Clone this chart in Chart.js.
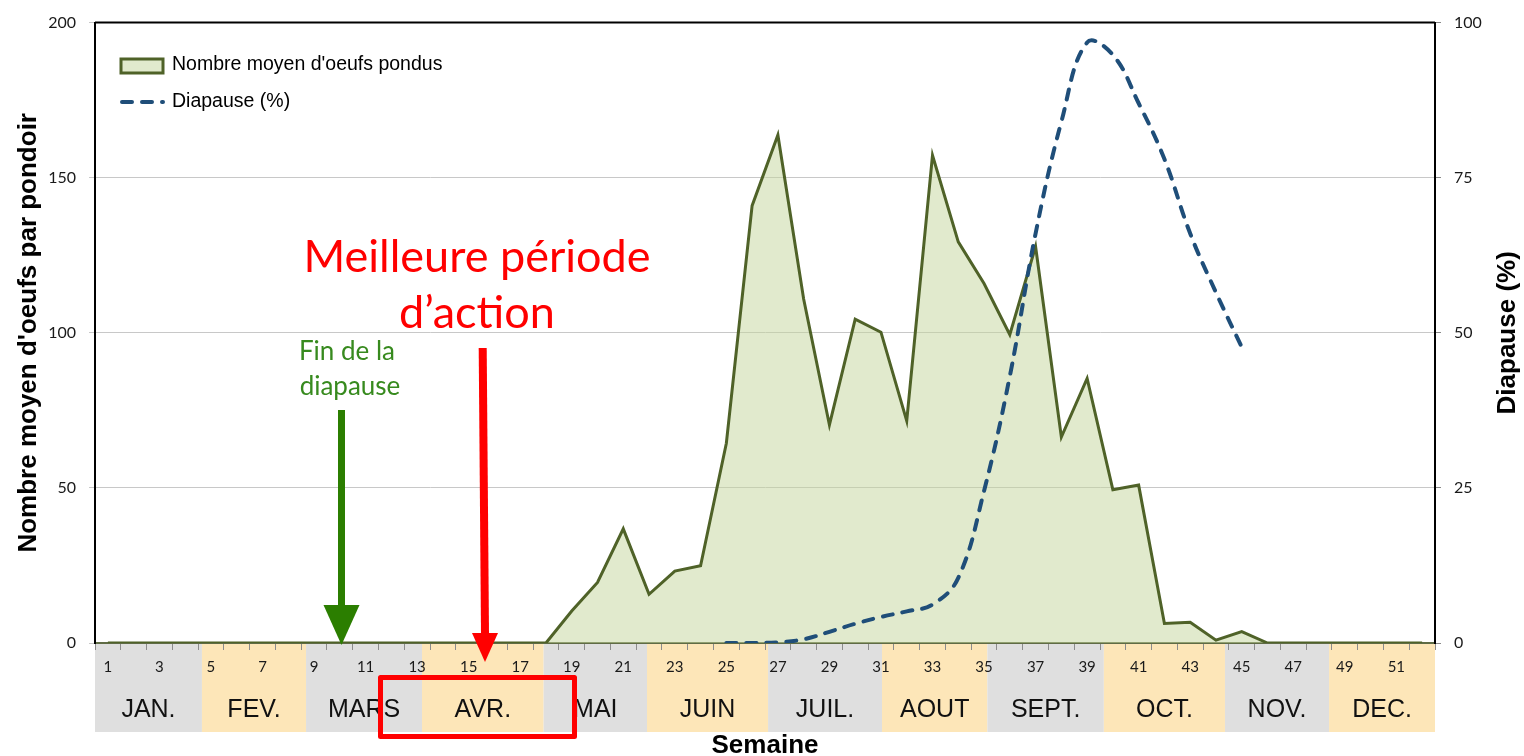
<!DOCTYPE html>
<html>
<head>
<meta charset="utf-8">
<script src="https://cdn.jsdelivr.net/npm/chart.js@4/dist/chart.umd.min.js"></script>
<style>
  html, body { margin: 0; padding: 0; background: #fff; }
  #wrap { width: 1524px; height: 756px; position: relative; }
</style>
</head>
<body>
<div id="wrap"><canvas id="myChart"></canvas></div>
<script>
// semaines 1..52
var weeks = ['1', '2', '3', '4', '5', '6', '7', '8', '9', '10', '11', '12', '13',
  '14', '15', '16', '17', '18', '19', '20', '21', '22', '23', '24', '25', '26',
  '27', '28', '29', '30', '31', '32', '33', '34', '35', '36', '37', '38', '39',
  '40', '41', '42', '43', '44', '45', '46', '47', '48', '49', '50', '51', '52'];

// nombre moyen d'oeufs par pondoir (axe gauche)
var eggs = [0, 0, 0, 0, 0, 0, 0, 0, 0, 0, 0, 0, 0, 0, 0, 0, 0, 0,
  10.3, 19.5, 36.8, 15.7, 23.2, 24.9, 64.4, 141, 163.8, 110.9, 70.3, 104.4,
  100.2, 71.6, 157.2, 129.3, 115.9, 99.4, 127.8, 66.4, 85.3, 49.4, 50.9,
  6.3, 6.7, 0.9, 3.7,
  0, 0, 0, 0, 0, 0, 0];

// diapause en % (axe droit)
var diapause = [null, null, null, null, null, null, null, null, null, null, null, null,
  null, null, null, null, null, null, null, null, null, null, null, null,
  0, 0, 0.1, 0.6, 1.8, 3.1, 4.2, 5.1, 6.2, 10.5, 24.5, 43, 66, 84, 96.8, 94.8,
  87, 78, 66, 56.5, 47.7,
  null, null, null, null, null, null, null];

var months = ['JAN.', 'FEV.', 'MARS', 'AVR.', 'MAI', 'JUIN', 'JUIL.', 'AOUT', 'SEPT.', 'OCT.', 'NOV.', 'DEC.'];
// fin de chaque mois, en semaines
var monthEnds = [4.15, 8.19, 12.69, 17.41, 21.42, 26.12, 30.54, 34.63, 39.15, 43.85, 47.89, 52];

var ARIAL = '"Liberation Sans", Arial, sans-serif';
var CALIBRI = 'Lato, "Open Sans", sans-serif';

// bandes de mois sous l'axe des semaines
var monthBands = {
  id: 'monthBands',
  beforeDraw: function (chart) {
    var ctx = chart.ctx;
    var x = chart.scales.x;
    var area = chart.chartArea;
    var start = 0;
    ctx.save();
    for (var i = 0; i < months.length; i++) {
      var x0 = x.getPixelForValue(start - 0.5);
      var x1 = x.getPixelForValue(monthEnds[i] - 0.5);
      ctx.fillStyle = i % 2 ? '#fde6b8' : '#dfdfdf';
      ctx.fillRect(x0, area.bottom + 1, x1 - x0, 88);
      ctx.fillStyle = '#111';
      ctx.font = '25px ' + ARIAL;
      ctx.textAlign = 'center';
      ctx.textBaseline = 'alphabetic';
      ctx.fillText(months[i], (x0 + x1) / 2, 717);
      start = monthEnds[i];
    }
    ctx.restore();
  }
};

function drawArrow(ctx, x0, y0, x1, y1, color, width, headW, headH) {
  ctx.strokeStyle = color;
  ctx.fillStyle = color;
  ctx.lineWidth = width;
  ctx.lineCap = 'butt';
  ctx.beginPath();
  ctx.moveTo(x0, y0);
  ctx.lineTo(x1, y1 - headH + 1);
  ctx.stroke();
  ctx.beginPath();
  ctx.moveTo(x1 - headW / 2, y1 - headH);
  ctx.lineTo(x1 + headW / 2, y1 - headH);
  ctx.lineTo(x1, y1);
  ctx.closePath();
  ctx.fill();
}

// légende, titre droit, cadre et annotations
var overlay = {
  id: 'overlay',
  afterDraw: function (chart) {
    var ctx = chart.ctx;
    var area = chart.chartArea;
    var ds0 = chart.data.datasets[0];
    var ds1 = chart.data.datasets[1];
    ctx.save();

    // cadre du haut
    ctx.strokeStyle = '#000';
    ctx.lineWidth = 2;
    ctx.beginPath();
    ctx.moveTo(area.left, area.top);
    ctx.lineTo(area.right, area.top);
    ctx.stroke();

    // légende
    ctx.fillStyle = ds0.backgroundColor;
    ctx.fillRect(121, 59, 42, 14);
    ctx.strokeStyle = ds0.borderColor;
    ctx.lineWidth = 3;
    ctx.strokeRect(121, 59, 42, 14);
    ctx.strokeStyle = ds1.borderColor;
    ctx.lineWidth = 4;
    ctx.lineCap = 'round';
    ctx.setLineDash(ds1.borderDash);
    ctx.beginPath();
    ctx.moveTo(122, 102);
    ctx.lineTo(163, 102);
    ctx.stroke();
    ctx.setLineDash([]);
    ctx.fillStyle = '#000';
    ctx.font = '19.5px ' + ARIAL;
    ctx.textAlign = 'left';
    ctx.textBaseline = 'middle';
    ctx.fillText(ds0.label, 172, 65);
    ctx.fillText(ds1.label, 172, 102);

    // titre de l'axe droit
    ctx.save();
    ctx.translate(1508, (area.top + area.bottom) / 2);
    ctx.rotate(-Math.PI / 2);
    ctx.font = 'bold 26px ' + ARIAL;
    ctx.textAlign = 'center';
    ctx.fillText('Diapause (%)', 0, 0);
    ctx.restore();

    // annotations
    ctx.textAlign = 'center';
    ctx.textBaseline = 'alphabetic';
    ctx.fillStyle = '#ff0000';
    ctx.font = '45px ' + CALIBRI;
    ctx.fillText('Meilleure période', 477, 272);
    ctx.fillText('d\u2019action', 477, 328);

    ctx.fillStyle = '#378a1e';
    ctx.font = '26px ' + CALIBRI;
    ctx.fillText('Fin de la', 347, 360);
    ctx.fillText('diapause', 350, 395);

    drawArrow(ctx, 341.5, 410, 341.5, 645, '#2b7e00', 7, 36, 40);
    drawArrow(ctx, 482.7, 348, 485, 662, '#ff0000', 8, 26, 29);

    ctx.strokeStyle = '#ff0000';
    ctx.lineWidth = 5;
    ctx.lineJoin = 'round';
    ctx.strokeRect(380.5, 677.5, 194, 59);

    ctx.restore();
  }
};

var ctx = document.getElementById('myChart').getContext('2d');
var myChart = new Chart(ctx, {
  type: 'line',
  data: {
    labels: weeks,
    datasets: [{
      label: "Nombre moyen d'oeufs pondus",
      data: eggs,
      yAxisID: 'y',
      borderColor: '#4f6228',
      borderWidth: 3,
      backgroundColor: 'rgba(195,214,155,0.5)',
      fill: 'origin',
      pointRadius: 0,
      tension: 0,
      order: 2
    }, {
      label: 'Diapause (%)',
      data: diapause,
      yAxisID: 'y2',
      borderColor: '#1f4e79',
      borderWidth: 4,
      borderDash: [10, 10],
      borderCapStyle: 'round',
      fill: false,
      pointRadius: 0,
      tension: 0.4,
      order: 1
    }]
  },
  options: {
    responsive: true,
    maintainAspectRatio: false,
    animation: false,
    layout: { padding: { top: 18, left: 0, right: 0, bottom: 0 } },
    plugins: {
      legend: { display: false },
      tooltip: { enabled: false }
    },
    scales: {
      x: {
        type: 'category',
        offset: true,
        grid: { offset: true, drawOnChartArea: false, tickLength: 7, color: '#8c8c8c' },
        border: { display: true, color: '#5f6b45', width: 2 },
        ticks: {
          autoSkip: false,
          maxRotation: 0,
          padding: 8,
          color: '#1a1a1a',
          font: { family: CALIBRI, size: 15 },
          callback: function (value, index) {
            return index % 2 === 0 ? weeks[index] : '';
          }
        },
        title: {
          display: true,
          text: 'Semaine',
          color: '#000',
          font: { family: ARIAL, size: 26, weight: 'bold', lineHeight: 1 },
          padding: { top: 0, bottom: -3 }
        },
        afterFit: function (scale) { scale.height = 113; }
      },
      y: {
        position: 'left',
        min: 0,
        max: 200,
        ticks: { stepSize: 50, padding: 13, color: '#1a1a1a', font: { family: CALIBRI, size: 16 } },
        grid: { color: '#c8c8c8', tickLength: 6 },
        border: { color: '#000', width: 2 },
        title: {
          display: true,
          text: "Nombre moyen d'oeufs par pondoir",
          color: '#000',
          font: { family: ARIAL, size: 26, weight: 'bold', lineHeight: 1 },
          padding: { top: 16, bottom: 0 }
        },
        afterFit: function (scale) { scale.width = 95; }
      },
      y2: {
        position: 'right',
        min: 0,
        max: 100,
        ticks: { stepSize: 25, padding: 13, color: '#1a1a1a', font: { family: CALIBRI, size: 16 } },
        grid: { drawOnChartArea: false, tickLength: 6, color: '#888' },
        border: { color: '#000', width: 2 },
        afterFit: function (scale) { scale.width = 89; }
      }
    }
  },
  plugins: [monthBands, overlay]
});
</script>
</body>
</html>
